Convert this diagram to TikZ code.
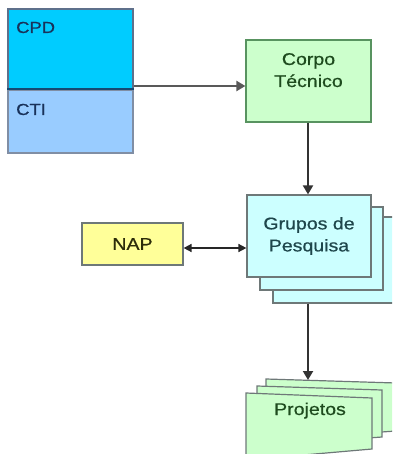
\documentclass[tikz,border=0pt]{standalone}
\usepackage{fontspec}
\setmainfont{Liberation Sans}[FakeStretch=1.15,FakeBold=0.6]
\usetikzlibrary{arrows.meta}

\definecolor{cpdfill}{RGB}{0,204,255}
\definecolor{ctifill}{RGB}{153,204,255}
\definecolor{greenfill}{RGB}{204,255,204}
\definecolor{cyanfill}{RGB}{204,255,255}
\definecolor{yellowfill}{RGB}{255,255,153}
\definecolor{edgegray}{RGB}{110,120,120}
\definecolor{navytext}{RGB}{25,50,90}
\definecolor{greentext}{RGB}{30,75,30}
\definecolor{tealtext}{RGB}{30,70,75}
\definecolor{olivetext}{RGB}{45,45,10}

\tikzset{
  boxnode/.style={draw=edgegray, line width=1.2pt, inner sep=0pt, align=center},
  pagefill/.style={draw=edgegray, line width=1.2pt},
  txt/.style={font=\fontsize{17}{22}\selectfont},
  smalltxt/.style={font=\fontsize{16}{18}\selectfont, text=navytext, inner sep=0pt},
  link/.style={line width=2pt, draw=black!80, -{Triangle[length=9pt,width=10pt]}},
}

\begin{document}
\begin{tikzpicture}[x=1pt,y=-1pt]
  \useasboundingbox (0,0) rectangle (392,454);
  \clip (0,0) rectangle (392,454);

  % CPD / CTI split box
  \node[boxnode, fill=cpdfill, draw=navytext!70, minimum width=125pt, minimum height=81pt] (cpd) at (70.5,49.5) {};
  \node[boxnode, fill=ctifill, draw=navytext!55, minimum width=125pt, minimum height=63pt] (cti) at (70.5,121.5) {};
  \draw[line width=2pt, draw=navytext!85!cpdfill] (cti.north west) -- (cti.north east);
  \node[smalltxt, anchor=base west] (cpdlabel) at (16,33) {CPD};
  \node[smalltxt, anchor=base west] (ctilabel) at (16,115) {CTI};

  % Corpo Técnico
  \node[boxnode, fill=greenfill, draw=edgegray!80!green, minimum width=125pt, minimum height=82pt] (corpo) at (308.5,81) {};
  \node[txt, text=greentext, align=center, inner sep=0pt, anchor=base] (corpolabel) at (308.5,87) {Corpo\\Técnico};

  % Grupos de Pesquisa (stacked pages)
  \node[boxnode, fill=cyanfill, minimum width=122pt, minimum height=86pt] (grupos3) at (334,260) {};
  \node[boxnode, fill=cyanfill, minimum width=123pt, minimum height=83pt] (grupos2) at (321.5,248.5) {};
  \node[boxnode, fill=cyanfill, minimum width=124pt, minimum height=82pt, txt, text=tealtext] (grupos) at (309,236) {Grupos de\\Pesquisa};

  % NAP
  \node[boxnode, fill=yellowfill, minimum width=101pt, minimum height=42pt, txt, text=olivetext] (nap) at (132.5,244) {NAP};

  % Projetos (skewed stacked pages)
  \filldraw[pagefill, fill=greenfill] (266,379) -- (396,383) -- (396,431) -- (266,440) -- cycle;
  \filldraw[pagefill, fill=greenfill] (257,386) -- (382,390) -- (382,437) -- (257,446) -- cycle;
  \filldraw[pagefill, fill=greenfill] (246,393) -- (372,398) -- (372,449) -- (246,460) -- cycle;
  \node[txt, text=greentext, inner sep=0pt, anchor=base] (projetos) at (310,415) {Projetos};
  \coordinate (projtop) at (308,380);

  % Connectors
  \coordinate (cpdout) at (cpd.east |- 0,86);
  \draw[link, draw=black!65, line width=2.6pt] (cpdout) -- (corpo.west |- cpdout);
  \draw[link] (corpo.south -| 308,0) -- (grupos.north -| 308,0);
  \coordinate (napout) at (nap.east |- 0,248);
  \draw[line width=1.6pt, draw=black!85, {Triangle[length=8pt,width=8pt]}-{Triangle[length=8pt,width=8pt]}] (napout) -- (grupos.west |- napout);
  \draw[link] (grupos3.south -| 308,0) -- (projtop);
\end{tikzpicture}
\end{document}
